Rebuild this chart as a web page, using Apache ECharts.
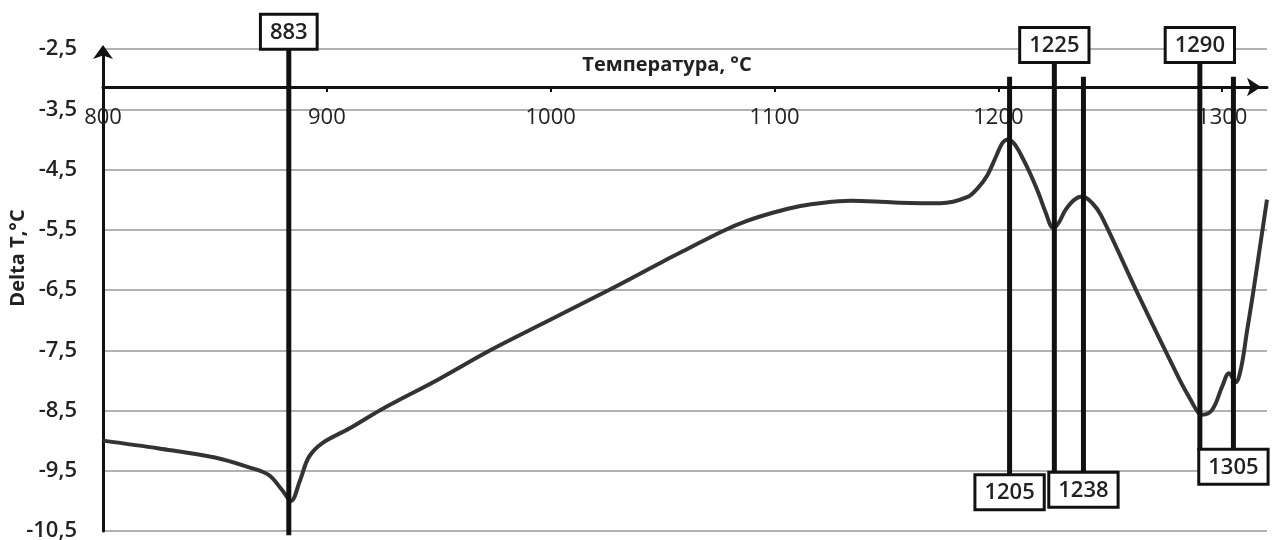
<!DOCTYPE html>
<html>
<head>
<meta charset="utf-8">
<script src="https://cdn.jsdelivr.net/npm/echarts@6/dist/echarts.min.js"></script>
<style>
  html, body { margin: 0; padding: 0; background: #fff; }
  #chart { width: 1276px; height: 540px; }
</style>
</head>
<body>
<div id="chart"></div>
<script>
  // кривая ДТА: температура (°C) и Delta T (°C)
  var temps = [800, 825, 850, 865, 874, 880, 884, 888, 892, 898, 910, 924, 950, 973, 1000,
    1026, 1050, 1060, 1077, 1088, 1100, 1111, 1122, 1134, 1145, 1156, 1174, 1186, 1191, 1195,
    1199, 1202, 1204.5, 1207, 1210, 1214, 1218, 1221, 1224.5, 1227, 1230, 1234, 1237.5,
    1242, 1246, 1263, 1281, 1286, 1289, 1291, 1295.5, 1300, 1303, 1306, 1308.5, 1311,
    1314, 1317, 1320];
  var deltaT = [-9.00, -9.13, -9.28, -9.44, -9.57, -9.82, -10.00, -9.66, -9.27, -9.04, -8.80,
    -8.49, -7.98, -7.50, -6.99, -6.50, -6.03, -5.84, -5.52, -5.35, -5.21, -5.11, -5.05,
    -5.02, -5.03, -5.05, -5.06, -4.96, -4.80, -4.60, -4.28, -4.05, -4.00, -4.07, -4.25,
    -4.55, -4.90, -5.20, -5.47, -5.38, -5.17, -5.00, -4.95, -5.06, -5.27, -6.62, -7.99,
    -8.33, -8.52, -8.57, -8.49, -8.10, -7.88, -8.03, -7.78, -7.20, -6.50, -5.75, -5.00];

  // вертикальные отметки: температура, верх/низ линии (в единицах Delta T), подпись сверху (1) или снизу (-1)
  var markTemps = [883, 1225, 1290, 1205, 1238, 1305];
  var markTop = [-2.48, -2.70, -2.70, -2.96, -2.96, -2.96];
  var markBottom = [-10.57, -9.54, -9.17, -9.59, -9.55, -9.17];
  var markSide = [1, 1, 1, -1, -1, -1];

  var curve = temps.map(function (t, i) { return [t, deltaT[i]]; });
  var marks = markTemps.map(function (t, i) { return [t, markTop[i], markBottom[i], markSide[i]]; });

  var chart = echarts.init(document.getElementById('chart'));
  chart.setOption({
    backgroundColor: '#fff',
    animation: false,
    textStyle: { fontFamily: 'Open Sans' },
    grid: { left: 103, right: 9, top: 49, bottom: 9, containLabel: false, outerBoundsMode: 'none' },
    // подпись оси Y (повёрнутая)
    graphic: [{
      type: 'text',
      x: 18,
      y: 258,
      rotation: Math.PI / 2,
      style: {
        text: 'Delta T,°C',
        fontFamily: 'Open Sans',
        fontSize: 20,
        fontWeight: 'bold',
        fill: '#222',
        align: 'center',
        verticalAlign: 'middle'
      }
    }],
    xAxis: {
      type: 'value',
      min: 800,
      max: 1320,
      interval: 100,
      position: 'top',
      offset: -38,
      name: 'Температура, °C',
      nameLocation: 'middle',
      nameGap: 12,
      nameTextStyle: { fontSize: 20, fontWeight: 'bold', color: '#222', padding: [0, 36, 0, 0] },
      axisLine: {
        onZero: false,
        symbol: ['none', 'arrow'],
        symbolSize: [14, 14],
        symbolOffset: [0, -6],
        lineStyle: { color: '#111', width: 3 }
      },
      axisTick: { show: true, inside: true, length: 5, lineStyle: { color: '#111', width: 2 } },
      axisLabel: {
        inside: true,
        margin: 20,
        fontSize: 22,
        color: '#222',
        showMaxLabel: false,
        formatter: function (v) { return String(v); }
      },
      splitLine: { show: false }
    },
    yAxis: {
      type: 'value',
      min: -10.5,
      max: -2.5,
      interval: 1,
      axisLine: {
        show: true,
        onZero: false,
        symbol: ['none', 'arrow'],
        symbolSize: [15, 14],
        symbolOffset: [0, 4],
        lineStyle: { color: '#111', width: 3 }
      },
      axisTick: { show: false },
      axisLabel: {
        margin: 26,
        fontSize: 22,
        fontWeight: 600,
        color: '#222',
        formatter: function (v) { return v.toFixed(1).replace('.', ','); }
      },
      splitLine: { show: true, lineStyle: { color: '#999', width: 1.5 } }
    },
    series: [
      {
        type: 'line',
        data: curve,
        smooth: 0.35,
        symbol: 'none',
        lineStyle: { color: '#333', width: 4 },
        z: 2
      },
      {
        type: 'custom',
        data: marks,
        clip: false,
        z: 5,
        renderItem: function (params, api) {
          var t = api.value(0);
          var p1 = api.coord([t, api.value(1)]);
          var p2 = api.coord([t, api.value(2)]);
          var up = api.value(3) > 0;
          return {
            type: 'group',
            children: [
              {
                type: 'line',
                shape: { x1: p1[0], y1: p1[1], x2: p2[0], y2: p2[1] },
                style: { stroke: '#111', lineWidth: 5 }
              },
              {
                type: 'text',
                x: p1[0],
                y: up ? p1[1] : p2[1],
                style: {
                  text: String(t),
                  fontFamily: 'Open Sans',
                  fontSize: 22,
                  fontWeight: 600,
                  fill: '#222',
                  align: 'center',
                  verticalAlign: up ? 'bottom' : 'top',
                  padding: [6, 8, 4, 8],
                  backgroundColor: '#fff',
                  borderColor: '#111',
                  borderWidth: 3
                }
              }
            ]
          };
        }
      }
    ]
  });
</script>
</body>
</html>
